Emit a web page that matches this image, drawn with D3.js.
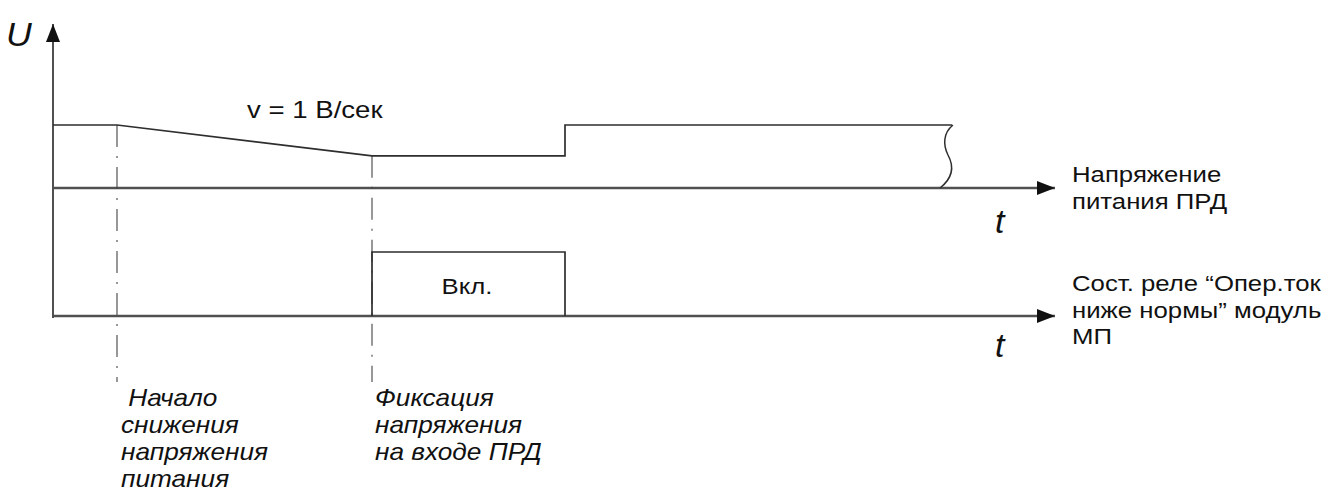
<!DOCTYPE html>
<html>
<head>
<meta charset="utf-8">
<script src="https://cdn.jsdelivr.net/npm/d3@7"></script>
<style>
  body { margin: 0; background: #ffffff; }
  text { font-family: "Liberation Sans", Arial, sans-serif; fill: #111; }
</style>
</head>
<body>
<div id="chart"></div>
<script>
// supply voltage of ПРД (time in arbitrary units, U relative)
var supplyT = [0, 6.4, 31.9, 51.2, 51.2, 89.9];
var supplyU = [10, 10, 5.1, 5.1, 10, 10];
// relay "Опер.ток ниже нормы" state
var relayT = [31.9, 31.9, 51.2, 51.2];
var relayS = [0, 1, 1, 0];
// events (dash-dot markers)
var eventT = [6.4, 31.9];
var eventLabels = [
  [" Начало", "снижения", "напряжения", "питания"],
  ["Фиксация", "напряжения", "на входе ПРД"]
];
var seriesLabels = [
  ["Напряжение", "питания ПРД"],
  ["Сост. реле “Опер.ток", "ниже нормы” модуль", "МП"]
];
var rateLabel = "v = 1 В/сек";
var rateT = 19.4;
var relayOnLabel = "Вкл.";
var breakT = 89.9;

var width = 1338, height = 498;
var sx = 1.12; // text is drawn a bit stretched horizontally
var fs = 23;

var svg = d3.select("#chart").append("svg")
  .attr("width", width)
  .attr("height", height);

var x = d3.scaleLinear().domain([0, 100]).range([53, 1053]);
var yU = d3.scaleLinear().domain([0, 10]).range([188, 125]);
var yR = d3.scaleLinear().domain([0, 1]).range([316, 252]);

var defs = svg.append("defs");
defs.append("marker")
  .attr("id", "arrow")
  .attr("viewBox", "0 0 18 14")
  .attr("refX", 18)
  .attr("refY", 7)
  .attr("markerWidth", 18)
  .attr("markerHeight", 14)
  .attr("markerUnits", "userSpaceOnUse")
  .attr("orient", "auto")
  .append("path")
  .attr("d", "M0,0 L18,7 L0,14 Z")
  .style("fill", "#111");

function label(g, txt, px, py, size, italic, k) {
  return g.append("text")
    .attr("transform", "translate(" + px + "," + py + ") scale(" + (k || sx) + ",1)")
    .style("font-size", size + "px")
    .style("font-style", italic ? "italic" : "normal")
    .style("white-space", "pre")
    .text(txt);
}

var axisColor = "#505050", lineColor = "#2e2e2e";

// axes
svg.append("line")
  .attr("x1", x(0)).attr("y1", yR(0) + 2)
  .attr("x2", x(0)).attr("y2", 24)
  .style("stroke", axisColor).style("stroke-width", 2)
  .attr("marker-end", "url(#arrow)");

[yU(0), yR(0)].forEach(function(y0) {
  svg.append("line")
    .attr("x1", x(0) - 1).attr("y1", y0)
    .attr("x2", x(100) + 2).attr("y2", y0)
    .style("stroke", axisColor).style("stroke-width", 2.3)
    .attr("marker-end", "url(#arrow)");
});

// event markers
svg.selectAll("line.event")
  .data(eventT).enter()
  .append("line")
  .attr("class", "event")
  .attr("x1", function(d) { return x(d); })
  .attr("x2", function(d) { return x(d); })
  .attr("y1", function(d, i) { return i == 0 ? yU(10) : yU(5.1); })
  .attr("y2", 382)
  .style("stroke", "#444")
  .style("stroke-width", 1.1)
  .style("stroke-dasharray", "22,9,2,9");

// supply voltage
var pts = supplyT.map(function(t, i) { return [x(t), yU(supplyU[i])]; });
svg.append("path")
  .attr("d", d3.line()(pts))
  .style("fill", "none")
  .style("stroke", lineColor)
  .style("stroke-width", 1.7);

// break mark
var bx = x(breakT), bt = yU(10), bb = yU(0);
svg.append("path")
  .attr("d", "M" + (bx + 1) + "," + bt +
    " C" + (bx - 9) + "," + (bt + 8) + " " + (bx - 9) + "," + (bt + 20) + " " + (bx - 4) + "," + (bt + 30) +
    " C" + (bx + 2) + "," + (bt + 41) + " " + (bx + 2) + "," + (bt + 52) + " " + (bx - 12) + "," + bb)
  .style("fill", "none")
  .style("stroke", lineColor)
  .style("stroke-width", 1.5);

// relay state
var rpts = relayT.map(function(t, i) { return [x(t), yR(relayS[i])]; });
svg.append("path")
  .attr("d", d3.line()(rpts))
  .style("fill", "none")
  .style("stroke", lineColor)
  .style("stroke-width", 1.7);

// texts
label(svg, "U", 6, 46, 34, true, 1.05);
label(svg, rateLabel, x(rateT), yU(10) - 7, fs, false, 1.2);
label(svg, relayOnLabel, (x(relayT[0]) + x(relayT[2])) / 2 - 27, 294, fs, false);

label(svg, "t", 995, 233, 34, true, 1);
label(svg, "t", 995, 357, 34, true, 1);

seriesLabels[0].forEach(function(s, i) { label(svg, s, 1072, 182 + i * 27, fs, false); });
seriesLabels[1].forEach(function(s, i) { label(svg, s, 1072, 291 + i * 26.5, fs, false); });

eventLabels.forEach(function(lines, k) {
  lines.forEach(function(s, i) {
    label(svg, s, x(eventT[k]) + (k == 0 ? 4 : 3), 406 + i * 27, fs, true, 1.14);
  });
});
</script>
</body>
</html>
